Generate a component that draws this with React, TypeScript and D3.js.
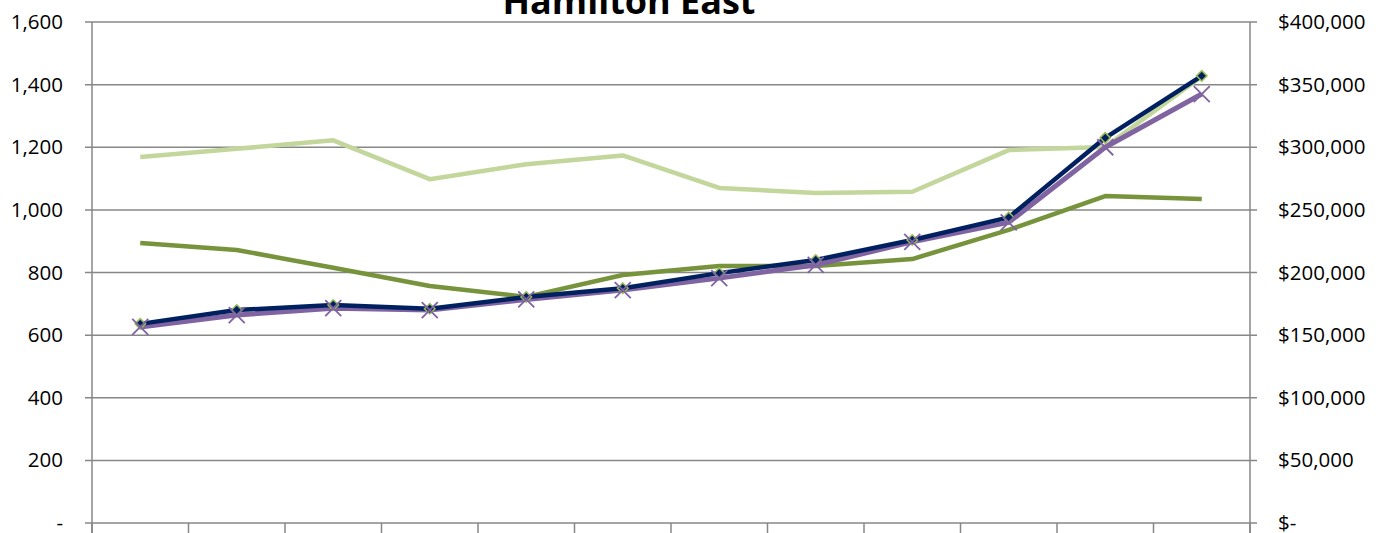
import * as d3 from 'd3';
import { useEffect, useRef } from 'react';

const title = 'Hamilton East';

// category labels are cropped off in the original; only their tick marks show
const categories = ['2000', '2001', '2002', '2003', '2004', '2005', '2006', '2007', '2008', '2009', '2010', '2011'];

// left axis (counts)
const leftTicks = [0, 200, 400, 600, 800, 1000, 1200, 1400, 1600];
const lightGreenValues = [1169, 1195, 1222, 1098, 1146, 1174, 1070, 1054, 1058, 1191, 1201, 1426];
const oliveValues = [894, 872, 815, 757, 722, 792, 821, 821, 843, 936, 1044, 1035];

// right axis (dollars)
const rightTicks = [0, 50000, 100000, 150000, 200000, 250000, 300000, 350000, 400000];
const navyValues = [159000, 170000, 174000, 171000, 180500, 187500, 199500, 210000, 226000, 244000, 307500, 357000];
const purpleValues = [156500, 166000, 171500, 170000, 178500, 186000, 195500, 206000, 224500, 240000, 300000, 342500];

const width = 1386;
const height = 533;
const font = '"Open Sans", "Liberation Sans", sans-serif';

export default function App() {
  const svgRef = useRef<SVGSVGElement>(null);

  useEffect(() => {
    const margin = { top: 22, right: 136, bottom: 10, left: 92 };
    const svg = d3.select(svgRef.current);
    svg.selectAll('*').remove();

    const x = d3
      .scaleBand<string>()
      .domain(categories)
      .range([margin.left, width - margin.right])
      .padding(0);
    const cx = (c: string) => (x(c) ?? 0) + x.bandwidth() / 2;

    const yL = d3.scaleLinear().domain([0, 1600]).range([height - margin.bottom, margin.top]);
    const yR = d3.scaleLinear().domain([0, 400000]).range([height - margin.bottom, margin.top]);

    const grid = '#878787';

    // horizontal grid lines + left/right tick stubs
    svg
      .append('g')
      .selectAll('line')
      .data(leftTicks)
      .join('line')
      .attr('x1', margin.left - 7)
      .attr('x2', width - margin.right + 7)
      .attr('y1', (d) => yL(d))
      .attr('y2', (d) => yL(d))
      .attr('stroke', grid)
      .attr('stroke-width', 1.5);

    // axis lines
    [margin.left, width - margin.right].forEach((ax) => {
      svg
        .append('line')
        .attr('x1', ax)
        .attr('x2', ax)
        .attr('y1', margin.top)
        .attr('y2', height)
        .attr('stroke', grid)
        .attr('stroke-width', 1.5);
    });

    // x tick marks at category boundaries
    const bounds = categories.map((c) => x(c) ?? 0).concat([width - margin.right]);
    svg
      .append('g')
      .selectAll('line')
      .data(bounds)
      .join('line')
      .attr('x1', (d) => d)
      .attr('x2', (d) => d)
      .attr('y1', height - margin.bottom)
      .attr('y2', height)
      .attr('stroke', grid)
      .attr('stroke-width', 1.5);

    // left labels
    const fmt = d3.format(',');
    svg
      .append('g')
      .selectAll('text')
      .data(leftTicks)
      .join('text')
      .attr('x', 63)
      .attr('y', (d) => yL(d) + 7)
      .attr('text-anchor', 'end')
      .style('font-family', font)
      .style('font-size', '20.5px')
      .attr('fill', '#000')
      .text((d) => (d === 0 ? '-' : fmt(d)));

    // right labels
    svg
      .append('g')
      .selectAll('text')
      .data(rightTicks)
      .join('text')
      .attr('x', 1278)
      .attr('y', (d) => yR(d) + 7)
      .attr('text-anchor', 'start')
      .style('font-family', font)
      .style('font-size', '20.5px')
      .attr('fill', '#000')
      .text((d) => (d === 0 ? '$-' : '$' + fmt(d)));

    const lineL = d3
      .line<number>()
      .x((_, i) => cx(categories[i]))
      .y((d) => yL(d));
    const lineR = d3
      .line<number>()
      .x((_, i) => cx(categories[i]))
      .y((d) => yR(d));

    const drawLine = (path: string | null, color: string, w: number) =>
      svg
        .append('path')
        .attr('d', path)
        .attr('fill', 'none')
        .attr('stroke', color)
        .attr('stroke-width', w)
        .attr('stroke-linejoin', 'round');

    drawLine(lineL(lightGreenValues), '#C3D69B', 4.5);
    drawLine(lineL(oliveValues), '#77933C', 4.5);
    drawLine(lineR(purpleValues), '#8064A2', 5);
    drawLine(lineR(navyValues), '#002060', 4.5);

    // diamond markers
    svg
      .append('g')
      .selectAll('path')
      .data(navyValues)
      .join('path')
      .attr('d', d3.symbol(d3.symbolDiamond2, 70)())
      .attr('transform', (d, i) => `translate(${cx(categories[i])},${yR(d)})`)
      .attr('fill', '#002060')
      .attr('stroke', '#9BBB59')
      .attr('stroke-width', 1.5);

    // x markers
    svg
      .append('g')
      .selectAll('path')
      .data(purpleValues)
      .join('path')
      .attr('d', 'M-8,-8L8,8M-8,8L8,-8')
      .attr('transform', (d, i) => `translate(${cx(categories[i])},${yR(d)})`)
      .attr('fill', 'none')
      .attr('stroke', '#8064A2')
      .attr('stroke-width', 1.8);

    // title (cropped at top, as in the original)
    svg
      .append('text')
      .attr('x', 629)
      .attr('y', 14)
      .attr('text-anchor', 'middle')
      .style('font-family', font)
      .style('font-size', '36px')
      .style('font-weight', 'bold')
      .attr('fill', '#000')
      .text(title);
  }, []);

  return (
    <svg
      ref={svgRef}
      width={width}
      height={height}
      style={{ position: 'absolute', top: 0, left: 0, background: '#fff' }}
    />
  );
}
